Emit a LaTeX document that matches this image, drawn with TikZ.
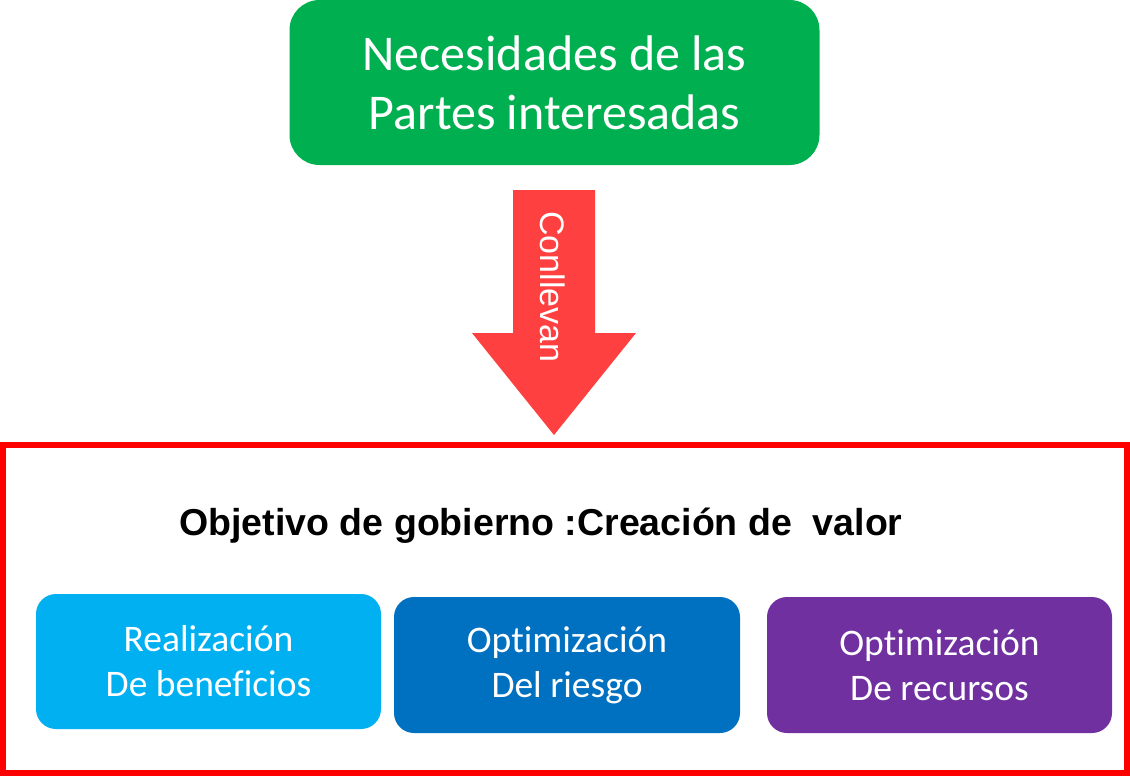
\documentclass[tikz,border=0pt]{standalone}
\usepackage{fontspec}
\setmainfont{Carlito}[Ligatures=NoCommon]
\newfontfamily\arialfont{Liberation Sans}
\definecolor{needgreen}{HTML}{00B050}
\definecolor{lightblue}{HTML}{00B0F0}
\definecolor{midblue}{HTML}{0070C0}
\definecolor{purp}{HTML}{7030A0}
\definecolor{arrowred}{HTML}{FF4040}
\definecolor{framered}{HTML}{FF0000}
\begin{document}
\begin{tikzpicture}[x=1pt,y=-1pt,
  box/.style={fill=#1, rounded corners=20pt, text=white, align=center, inner sep=0pt,
    minimum width=345pt, minimum height=136pt, font=\fontsize{37.5}{45}\selectfont}]
\useasboundingbox (0,0) rectangle (1130,776);
% top box
\node[box=needgreen, rounded corners=30pt, minimum width=530pt, minimum height=165pt,
  font=\fontsize{50}{59}\selectfont] (need) at (554.5,82.5) {Necesidades de las\\Partes interesadas};
% arrow
\coordinate (a1) at (513,190);
\coordinate (a2) at (595,190);
\coordinate (a3) at (595,333);
\coordinate (a4) at (636,333);
\coordinate (tip) at (554,435);
\coordinate (a6) at (472,333);
\coordinate (a7) at (513,333);
\fill[arrowred] (a1) -- (a2) -- (a3) -- (a4) -- (tip) -- (a6) -- (a7) -- cycle;
\node[text=white, rotate=-90, inner sep=0pt, font=\arialfont\fontsize{34}{40}\selectfont] (conllevan) at (553,287) {Conllevan};
% frame
\node[draw=framered, line width=6pt, minimum width=1124pt, minimum height=328pt, inner sep=0pt] (frame) at (565,609) {};
\node[anchor=base, inner sep=0pt, font=\arialfont\bfseries\fontsize{37.5}{44}\selectfont] (title) at (541,535) {Objetivo de gobierno :Creación de\ \ valor};
% three boxes
\node[box=lightblue, minimum height=135pt] (b1) at (208.5,661.5) {Realización\\De beneficios};
\node[box=midblue, minimum width=346pt] (b2) at (567,665) {Optimización\\Del riesgo};
\node[box=purp] (b3) at (939.5,665) {Optimización\\De recursos};
\end{tikzpicture}
\end{document}
